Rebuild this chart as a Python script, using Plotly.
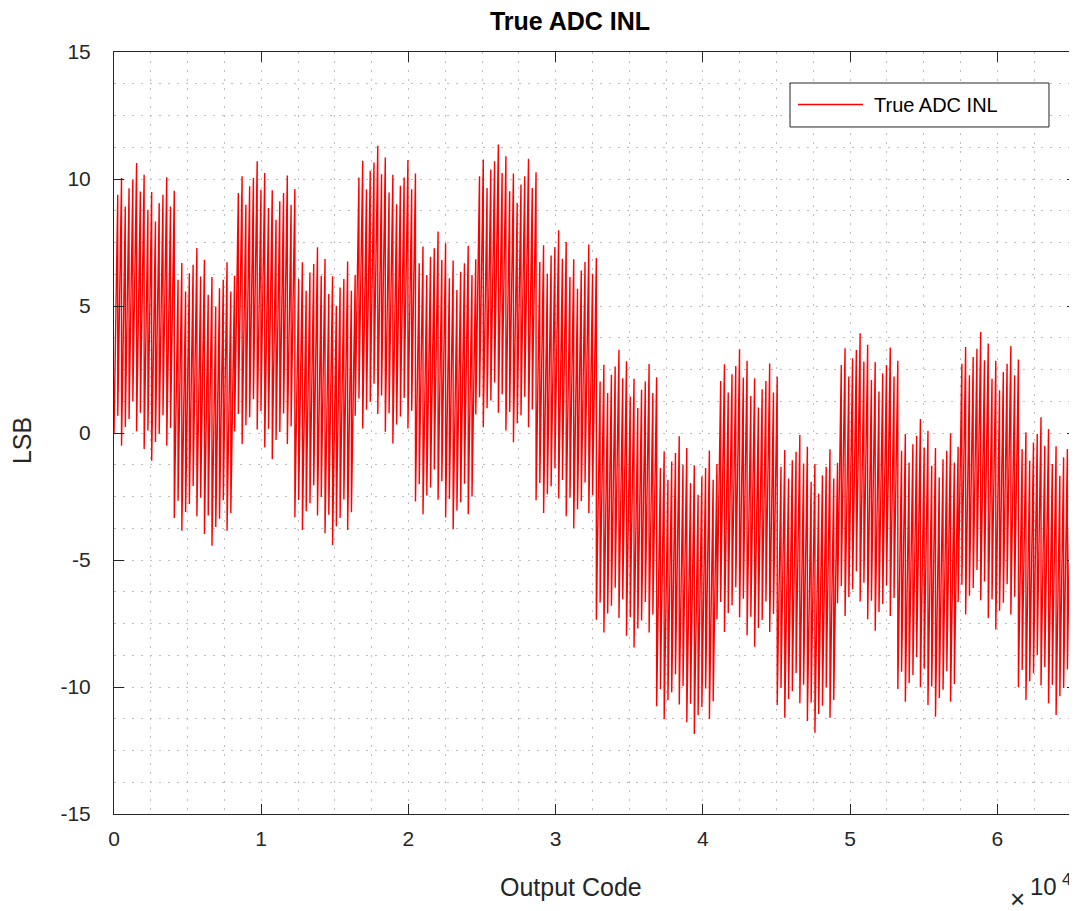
#!/usr/bin/env python
# coding: utf-8

# True ADC INL - Nachbau der MATLAB-Grafik mit Plotly

import plotly.graph_objects as go

# ## Daten
# 16 Segmente zu je 4096 Codes, jedes Segment besteht aus 16 Saegezahn-Zyklen (256 Codes)
CODES_PER_SEGMENT = 4096
CODES_PER_CYCLE = 256

# Wert am Anfang jedes Zyklus (Tal) innerhalb eines Segments, in LSB
cycle_trough = [0.00, 0.68, -0.50, 0.24, 0.55, 1.26, 0.07, 0.80,
                -0.63, 0.10, -1.09, -0.35, -0.03, 0.70, -0.50, 0.20]
# Wert am Ende jedes Zyklus (Spitze), in LSB
cycle_peak = [9.38, 10.04, 8.92, 9.64, 9.97, 10.63, 9.51, 10.17,
              8.79, 9.49, 8.33, 9.05, 9.38, 10.07, 8.92, 9.54]
# Versatz jedes 4096er-Segments, in LSB
segment_offset = [0.00, -3.35, 0.07, -3.32, 0.68, -2.70, 0.73, -2.65,
                  -7.35, -10.76, -7.33, -10.71, -6.70, -10.08, -6.65, -10.01]

x_tick_vals = [0, 10000, 20000, 30000, 40000, 50000, 60000]
x_tick_text = ["0", "1", "2", "3", "4", "5", "6"]
y_tick_vals = [-15, -10, -5, 0, 5, 10, 15]
y_tick_text = ["-15", "-10", "-5", "0", "5", "10", "15"]

# Kurve zusammensetzen: Tal am Zyklusanfang, Spitze am Zyklusende
codes = []
inl = []
for s, off in enumerate(segment_offset):
    for c in range(len(cycle_peak)):
        start = s * CODES_PER_SEGMENT + c * CODES_PER_CYCLE
        codes += [start, start + CODES_PER_CYCLE - 1]
        inl += [cycle_trough[c] + off, cycle_peak[c] + off]

FONT = "Liberation Sans, Arial, Helvetica, sans-serif"
AX_COLOR = "#262626"
GRID_COLOR = "#bdbdbd"
GRID_DASH = "2px,7px"
LINE_COLOR = "#ff0000"

fig = go.Figure()
fig.add_trace(go.Scatter(x=codes, y=inl, mode="lines", name="True ADC INL",
                         showlegend=False, line=dict(color=LINE_COLOR, width=1.4)))

axis_common = dict(
    showline=True, linecolor=AX_COLOR, linewidth=1, mirror="allticks",
    ticks="inside", ticklen=10, tickwidth=1, tickcolor=AX_COLOR,
    showgrid=True, gridcolor=GRID_COLOR, griddash=GRID_DASH, gridwidth=1,
    zeroline=False, tickfont=dict(family=FONT, size=21, color=AX_COLOR),
)

fig.update_xaxes(range=[0, 65420], tickmode="array", tickvals=x_tick_vals, ticktext=x_tick_text,
                 minor=dict(dtick=2500, showgrid=True, gridcolor=GRID_COLOR, griddash=GRID_DASH),
                 ticklabelstandoff=6, **axis_common)
fig.update_yaxes(range=[-15, 15], tickmode="array", tickvals=y_tick_vals, ticktext=y_tick_text,
                 minor=dict(dtick=1.25, tick0=0, showgrid=True, gridcolor=GRID_COLOR, griddash=GRID_DASH),
                 ticklabelstandoff=18, **axis_common)

# Legende im MATLAB-Stil (Rahmen, Linienmuster, Text)
shapes = [
    dict(type="rect", xref="paper", yref="paper", x0=0.7020, x1=0.9709, y0=0.9016, y1=0.9593,
         line=dict(color=AX_COLOR, width=1), fillcolor="white", layer="above"),
    dict(type="line", xref="paper", yref="paper", x0=0.7103, x1=0.7778, y0=0.9311, y1=0.9311,
         line=dict(color=LINE_COLOR, width=1.4), layer="above"),
]

annotations = [
    dict(text="True ADC INL", x=0.7871, y=0.9311, xanchor="left", font=dict(size=20, color="#000000")),
    dict(text="Output Code", x=0.4746, y=-0.0958, font=dict(size=25)),
    dict(text="LSB", x=-0.0955, y=0.4895, textangle=-90, font=dict(size=25)),
    dict(text="×", x=0.9377, y=-0.1115, font=dict(size=26)),
    dict(text="10", x=0.9647, y=-0.0958, font=dict(size=24)),
    dict(text="4", x=0.9896, y=-0.0866, font=dict(size=17)),
]
for a in annotations:
    a.setdefault("xanchor", "center")
    a.update(xref="paper", yref="paper", showarrow=False, yanchor="middle")
    a["font"].setdefault("color", AX_COLOR)
    a["font"]["family"] = FONT

# Seite hat 8px Rand -> Figur entsprechend kleiner
fig.update_layout(
    width=1069, height=903, autosize=False,
    margin=dict(l=106, r=0, t=44, b=97),
    paper_bgcolor="white", plot_bgcolor="white",
    title=dict(text="<b>True ADC INL</b>", x=0.4735, xref="paper", y=1 - 13 / 903,
               xanchor="center", yanchor="middle",
               font=dict(family=FONT, size=25, color="#000000")),
    shapes=shapes,
    annotations=annotations,
)

fig.write_html("out.html")
print("Grafik gespeichert: out.html")
